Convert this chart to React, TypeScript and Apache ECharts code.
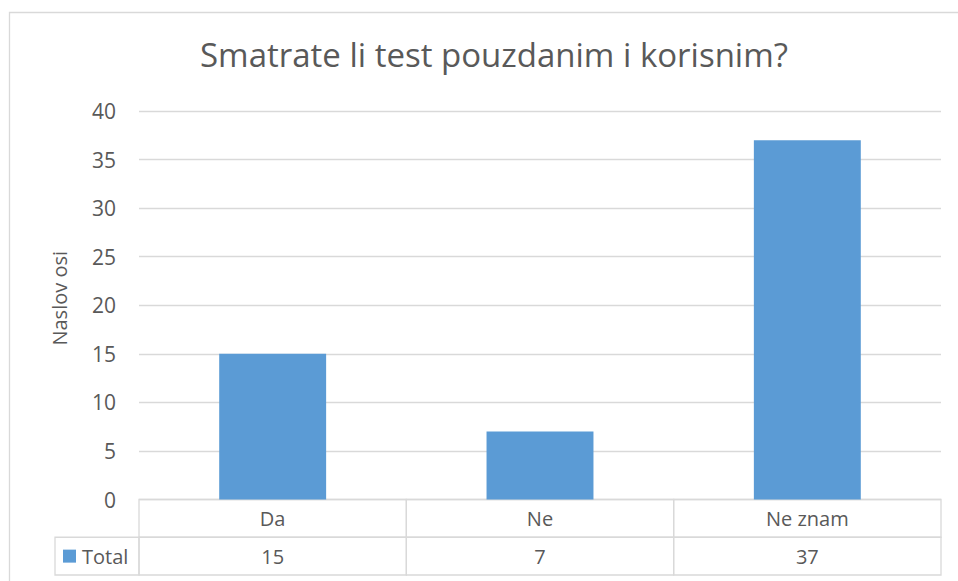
import React, { useEffect, useRef } from "react";
import * as echarts from "echarts";

const titleText = "Smatrate li test pouzdanim i korisnim?";
const axisTitle = "Naslov osi";
const seriesName = "Total";
const categories = ["Da", "Ne", "Ne znam"];
const totals = [15, 7, 37];
const yMin = 0;
const yMax = 40;
const yStep = 5;

const FONT = "'Open Sans', 'Noto Sans', sans-serif";
const TEXT = "#595959";
const LINE = "#D9D9D9";
const BAR = "#5B9BD5";

export default function App() {
  const ref = useRef<HTMLDivElement>(null);
  useEffect(() => {
    if (!ref.current) return;
    const chart = echarts.init(ref.current, undefined, { renderer: "svg" });

    const cells: [number, number, string][] = [
      ...categories.map((c, i) => [i, 0, c] as [number, number, string]),
      ...totals.map((v, i) => [i, 1, String(v)] as [number, number, string]),
    ];

    chart.setOption({
      animation: false,
      backgroundColor: "#ffffff",
      title: {
        text: titleText,
        left: 489,
        textAlign: "center",
        top: 33,
        textStyle: { color: TEXT, fontSize: 33, fontWeight: "normal", fontFamily: FONT },
      },
      graphic: [
        {
          type: "rect",
          shape: { x: 9.5, y: 12.5, width: 1000, height: 1000 },
          style: { fill: "none", stroke: LINE, lineWidth: 1.3 },
          silent: true,
        },
      ],
      grid: [
        { left: 139, right: 17, top: 111, bottom: 81.5 },
        { left: 139, right: 17, top: 499.5, bottom: 6 },
      ],
      xAxis: [
        {
          type: "category",
          gridIndex: 0,
          data: categories,
          axisLine: { show: false },
          axisTick: { show: false },
          axisLabel: { show: false },
        },
        {
          type: "category",
          gridIndex: 1,
          data: categories,
          show: false,
        },
      ],
      yAxis: [
        {
          type: "value",
          gridIndex: 0,
          min: yMin,
          max: yMax,
          interval: yStep,
          name: axisTitle,
          nameLocation: "middle",
          nameGap: 70,
          nameMoveOverlap: false,
          nameRotate: 90,
          nameTextStyle: { color: TEXT, fontSize: 20, fontFamily: FONT, padding: [0, 0, 0, 14] },
          axisLine: { show: false },
          axisTick: { show: false },
          axisLabel: { color: TEXT, fontSize: 21, fontFamily: FONT, margin: 23 },
          splitLine: { lineStyle: { color: LINE, width: 1.3 } },
        },
        {
          type: "category",
          gridIndex: 1,
          data: ["header", "values"],
          inverse: true,
          show: false,
        },
      ],
      series: [
        {
          name: seriesName,
          type: "bar",
          xAxisIndex: 0,
          yAxisIndex: 0,
          data: totals,
          barWidth: "40%",
          itemStyle: { color: BAR },
        },
        {
          type: "custom",
          xAxisIndex: 1,
          yAxisIndex: 1,
          data: cells.map((c) => [c[0], c[1]]),
          renderItem: (params: any, api: any) => {
            const col = api.value(0);
            const row = api.value(1);
            const c = api.coord([col, row]);
            const s = api.size([1, 1]);
            const x0 = c[0] - s[0] / 2;
            const y0 = c[1] - s[1] / 2;
            const text = cells[params.dataIndex][2];
            const children: any[] = [
              {
                type: "rect",
                shape: { x: x0, y: y0, width: s[0], height: s[1] },
                style: { fill: "none", stroke: LINE, lineWidth: 1.3 },
              },
              {
                type: "text",
                x: c[0],
                y: c[1],
                style: {
                  text,
                  fill: TEXT,
                  fontSize: 20,
                  fontFamily: FONT,
                  align: "center",
                  verticalAlign: "middle",
                },
              },
            ];
            if (row === 1 && col === 0) {
              const lw = 84;
              children.push(
                {
                  type: "rect",
                  shape: { x: x0 - lw, y: y0, width: lw, height: s[1] },
                  style: { fill: "none", stroke: LINE, lineWidth: 1.3 },
                },
                {
                  type: "rect",
                  shape: { x: x0 - lw + 8, y: c[1] - 6.5, width: 13, height: 13 },
                  style: { fill: BAR },
                },
                {
                  type: "text",
                  x: x0 - lw + 27,
                  y: c[1],
                  style: {
                    text: seriesName,
                    fill: TEXT,
                    fontSize: 20,
                    fontFamily: FONT,
                    align: "left",
                    verticalAlign: "middle",
                  },
                }
              );
            }
            return { type: "group", children };
          },
        },
      ],
    });
    return () => chart.dispose();
  }, []);
  return (
    <div
      ref={ref}
      style={{ position: "fixed", left: 0, top: 0, width: 958, height: 581 }}
    />
  );
}
